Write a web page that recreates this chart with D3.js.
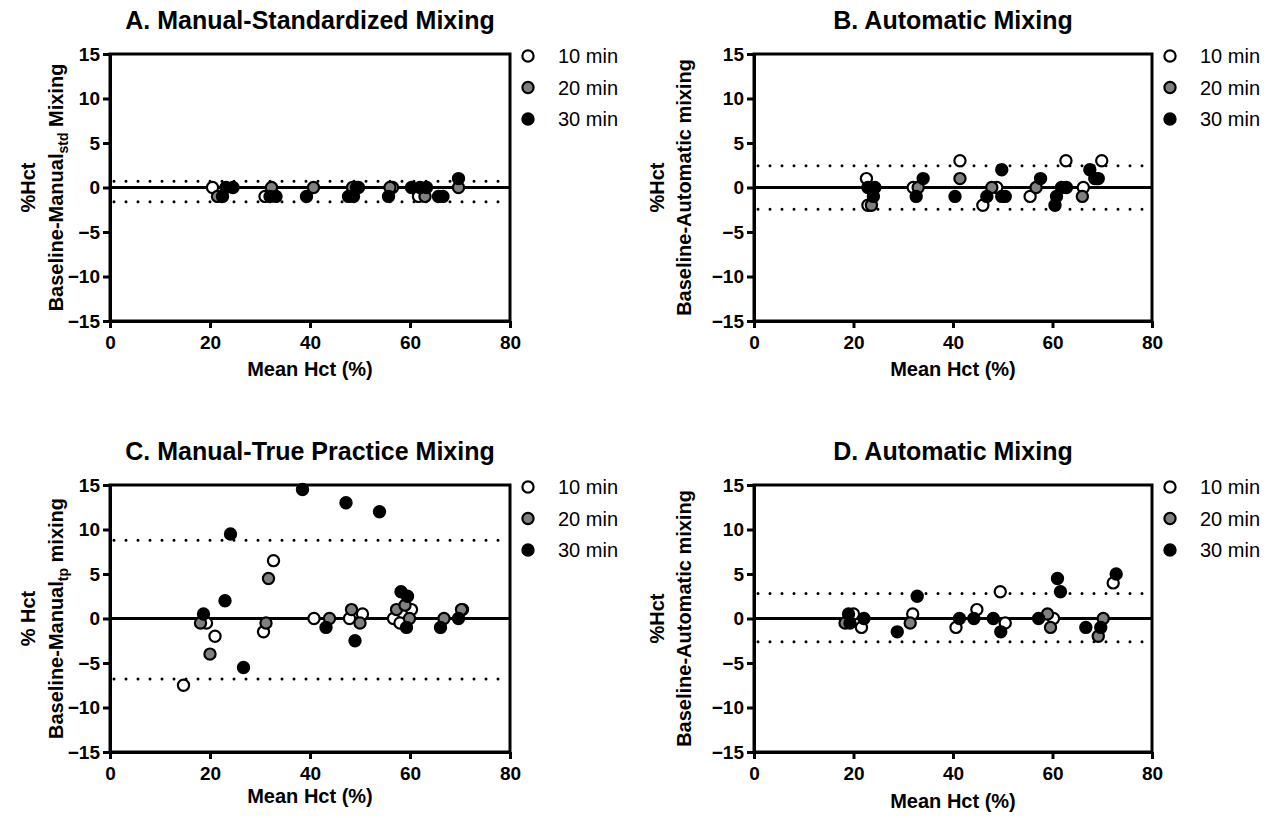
<!doctype html>
<html>
<head>
<meta charset="utf-8">
<style>
  body { margin: 0; background: #fff; }
  svg { font-family: Arial, "Liberation Sans", sans-serif; }
  .tick text { font-weight: bold; font-size: 19px; fill: #000; }
  .ttl { font-weight: bold; font-size: 25px; }
  .lab { font-weight: bold; font-size: 20px; }
  .leg { font-size: 20px; }
</style>
<script src="https://d3js.org/d3.v7.min.js"></script>
</head>
<body>
<svg width="1278" height="818"></svg>
<script>
// shared
var xTicks = [0, 20, 40, 60, 80];
var yTicks = [15, 10, 5, 0, -5, -10, -15];
var seriesNames = ["10 min", "20 min", "30 min"];
var seriesFill = ["#ffffff", "#808080", "#000000"];

// A. manual standardized  [mean Hct, difference]
var aMin10 = [[20.5, 0], [31, -1], [49.7, 0], [61.7, -1], [56.5, 0]];
var aMin20 = [[21.5, -1], [32.3, 0], [40.7, 0], [48.5, 0], [56, 0], [63, -1], [69.7, 0]];
var aMin30 = [[22.5, -1], [23.2, 0], [24.6, 0], [32, -1], [33.2, -1], [39.3, -1], [47.7, -1], [48.7, -1],
              [49.3, 0], [55.7, -1], [60.3, 0], [62, 0], [63.3, 0], [65.7, -1], [66.6, -1], [69.7, 1]];
var aLimits = [0.7, -1.6];

// B. automatic
var bMin10 = [[22.6, 1], [22.9, -2], [32, 0], [41.4, 3], [46, -2], [48.8, 0], [55.5, -1], [62.7, 3], [66.2, 0], [69.9, 3]];
var bMin20 = [[23.6, -2], [33, 0], [41.4, 1], [47.8, 0], [56.7, 0], [66, -1], [68.5, 1]];
var bMin30 = [[22.9, 0], [24.3, 0], [24, -1], [34, 1], [32.6, -1], [40.4, -1], [46.8, -1], [49.8, -1], [50.5, -1],
              [49.8, 2], [57.6, 1], [60.5, -2], [60.8, -1], [61.8, 0], [62.8, 0], [67.5, 2], [68.9, 1], [69.2, 1]];
var bLimits = [2.45, -2.45];

// C. manual true practice
var cMin10 = [[32.7, 6.5], [19.3, -0.5], [21, -2], [14.7, -7.5], [30.7, -1.5], [40.8, 0], [47.9, 0], [50.5, 0.5],
              [56.7, 0], [58, -0.5], [60.3, 1], [70.5, 1]];
var cMin20 = [[31.7, 4.5], [18.1, -0.5], [20, -4], [31.2, -0.5], [43.9, 0], [48.3, 1], [50, -0.5], [57.3, 1],
              [59, 1.5], [59.9, 0], [66.8, 0], [70.3, 1]];
var cMin30 = [[38.5, 14.5], [47.2, 13], [24.1, 9.5], [23, 2], [18.7, 0.5], [26.7, -5.5], [43.2, -1], [49, -2.5],
              [53.9, 12], [58.2, 3], [59.5, 2.5], [59.3, -1], [66.1, -1], [69.7, 0]];
var cLimits = [8.8, -6.8];

// D. automatic
var dMin10 = [[20, 0.5], [21.6, -1], [31.9, 0.5], [40.6, -1], [44.8, 1], [49.5, 3], [50.5, -0.5], [60.2, 0], [72.2, 4]];
var dMin20 = [[18.3, -0.5], [31.4, -0.5], [59, 0.5], [59.6, -1], [70.2, 0], [69.2, -2]];
var dMin30 = [[19, 0.5], [19.3, -0.5], [22.1, 0], [28.8, -1.5], [32.8, 2.5], [41.3, 0], [44.2, 0], [48.1, 0],
              [49.6, -1.5], [57.2, 0], [61, 4.5], [61.6, 3], [66.7, -1], [69.7, -1], [72.8, 5]];
var dLimits = [2.8, -2.6];

var panels = [
  { title: "A. Manual-Standardized Mixing", series: [aMin10, aMin20, aMin30], limits: aLimits,
    box: [110, 510, 54, 321], yl1: "%Hct", yl2: ["Baseline-Manual", "std", " Mixing"], ylx: [28, 56], xlY: 376 },
  { title: "B. Automatic Mixing", series: [bMin10, bMin20, bMin30], limits: bLimits,
    box: [754, 1152, 54, 321], yl1: "%Hct", yl2: ["Baseline-Automatic mixing"], ylx: [657, 684], xlY: 376 },
  { title: "C. Manual-True Practice Mixing", series: [cMin10, cMin20, cMin30], limits: cLimits,
    box: [110, 510, 485, 752], yl1: "% Hct", yl2: ["Baseline-Manual", "tp", " mixing"], ylx: [28, 56], xlY: 803 },
  { title: "D. Automatic Mixing", series: [dMin10, dMin20, dMin30], limits: dLimits,
    box: [754, 1152, 485, 752], yl1: "%Hct", yl2: ["Baseline-Automatic mixing"], ylx: [657, 684], xlY: 808 }
];

var svg = d3.select("svg");

panels.forEach(function(p) {
  var L = p.box[0], R = p.box[1], T = p.box[2], B = p.box[3];
  var x = d3.scaleLinear().domain([0, 80]).range([L, R]);
  var y = d3.scaleLinear().domain([-15, 15]).range([B, T]);
  var g = svg.append("g");

  // frame
  g.append("rect")
   .attr("x", L).attr("y", T).attr("width", R - L).attr("height", B - T)
   .attr("fill", "none").attr("stroke", "#000").attr("stroke-width", 3);

  // limits of agreement
  p.limits.forEach(function(v) {
    g.append("line")
     .attr("x1", L + 4).attr("x2", R)
     .attr("y1", y(v)).attr("y2", y(v))
     .attr("stroke", "#000").attr("stroke-width", 3)
     .attr("stroke-linecap", "round")
     .attr("stroke-dasharray", "0 12");
  });

  // zero line
  g.append("line")
   .attr("x1", L).attr("x2", R).attr("y1", y(0)).attr("y2", y(0))
   .attr("stroke", "#000").attr("stroke-width", 3);

  var ax = g.append("g")
   .attr("transform", "translate(0," + B + ")")
   .call(d3.axisBottom(x).tickValues(xTicks).tickSize(7).tickSizeOuter(0).tickPadding(8));
  var ay = g.append("g")
   .attr("transform", "translate(" + L + ",0)")
   .call(d3.axisLeft(y).tickValues(yTicks).tickSize(7).tickSizeOuter(0).tickPadding(3));
  [ax, ay].forEach(function(a) {
    a.select(".domain").attr("stroke-width", 3);
    a.selectAll(".tick line").attr("stroke-width", 3);
    a.selectAll(".tick text").attr("font-family", null).attr("font-size", null);
  });

  // points
  p.series.forEach(function(s, i) {
    g.selectAll(".pt" + i)
     .data(s)
     .enter().append("circle")
     .attr("cx", function(d) { return x(d[0]); })
     .attr("cy", function(d) { return y(d[1]); })
     .attr("r", 5.6)
     .attr("fill", seriesFill[i])
     .attr("stroke", "#000")
     .attr("stroke-width", 2.2);
  });

  // legend
  seriesNames.forEach(function(n, i) {
    var ly = T + 2 + i * 31.5;
    g.append("circle").attr("cx", R + 18).attr("cy", ly).attr("r", 5.6)
     .attr("fill", seriesFill[i]).attr("stroke", "#000").attr("stroke-width", 2.2);
    g.append("text").attr("class", "leg").attr("x", R + 48).attr("y", ly + 7).text(n);
  });

  // titles
  g.append("text").attr("class", "ttl")
   .attr("x", (L + R) / 2).attr("y", T - 25).attr("text-anchor", "middle").text(p.title);

  g.append("text").attr("class", "lab")
   .attr("x", (L + R) / 2).attr("y", p.xlY).attr("text-anchor", "middle").text("Mean Hct (%)");

  var cy = (T + B) / 2;
  g.append("text").attr("class", "lab")
   .attr("transform", "translate(" + (p.ylx[0] + 7) + "," + cy + ") rotate(-90)")
   .attr("text-anchor", "middle").text(p.yl1);
  var t2 = g.append("text").attr("class", "lab")
   .attr("transform", "translate(" + (p.ylx[1] + 7) + "," + cy + ") rotate(-90)")
   .attr("text-anchor", "middle");
  t2.append("tspan").text(p.yl2[0]);
  if (p.yl2.length > 1) {
    t2.append("tspan").attr("dy", 5).attr("font-size", 14).text(p.yl2[1]);
    t2.append("tspan").attr("dy", -5).text(p.yl2[2]);
  }
});
</script>
</body>
</html>
